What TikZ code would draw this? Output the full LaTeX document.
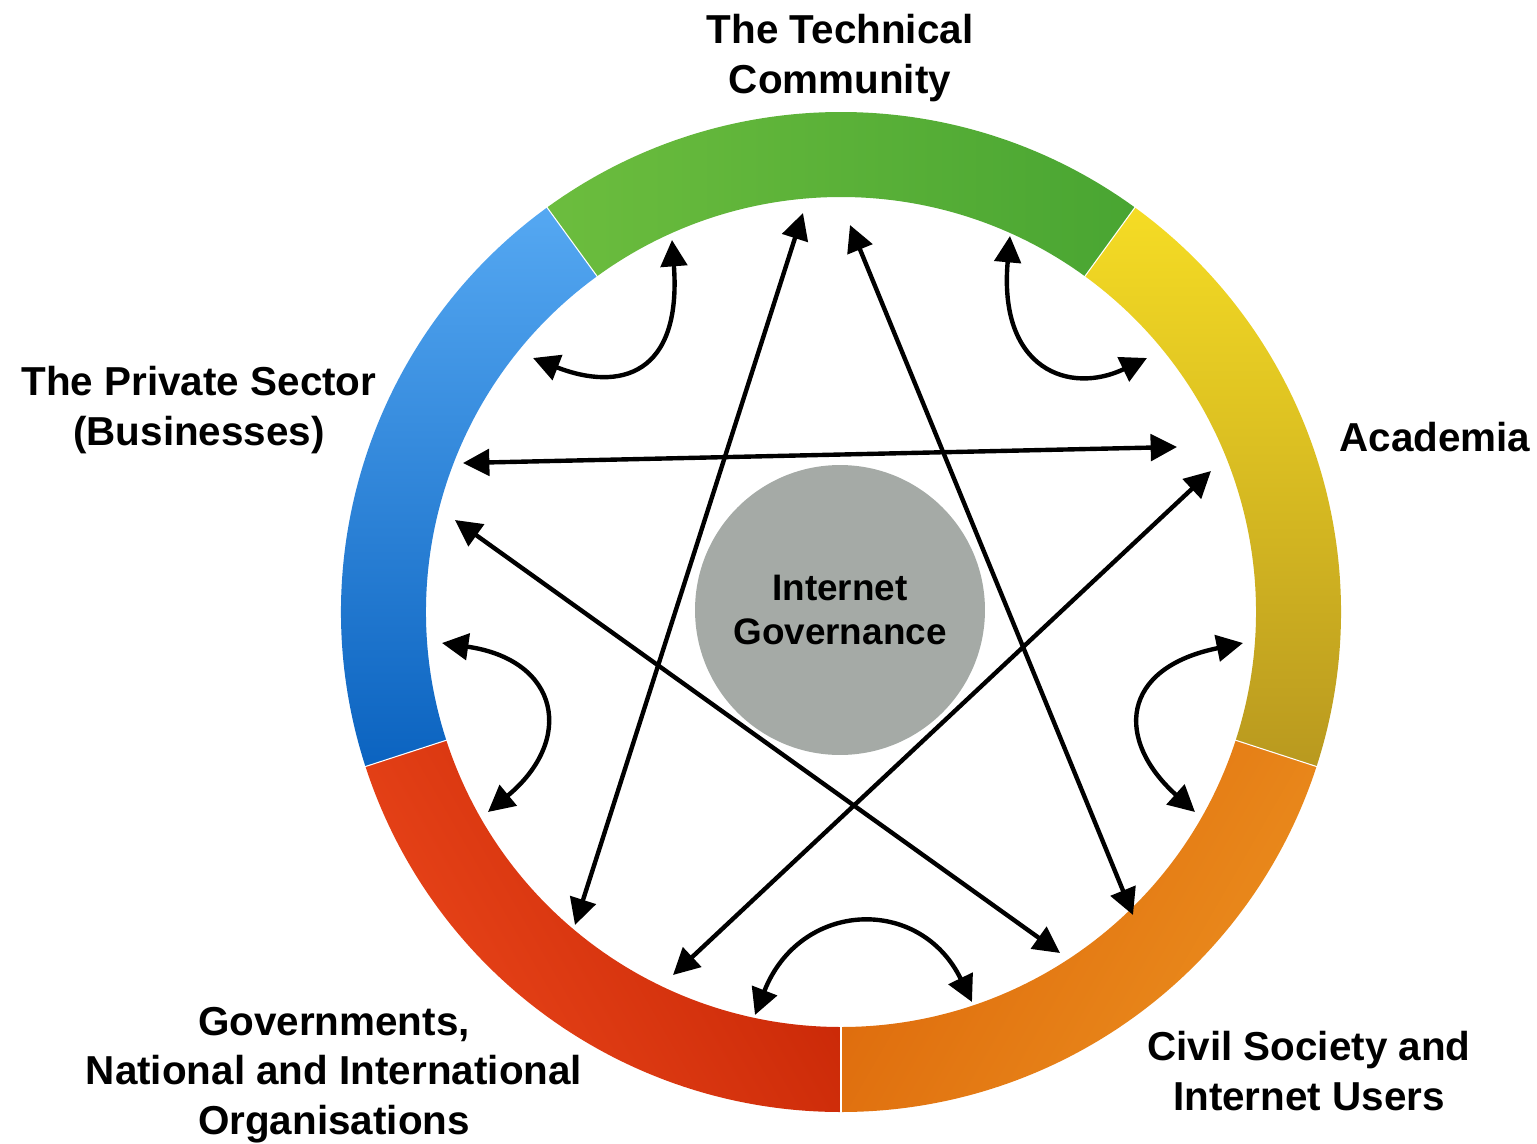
\documentclass[tikz,border=0pt]{standalone}
\usepackage{fontspec}
\setmainfont{Liberation Sans}
\usetikzlibrary{arrows.meta}
\definecolor{techA}{HTML}{6CBD3E}
\definecolor{techB}{HTML}{49A532}
\definecolor{acadA}{HTML}{F5DC24}
\definecolor{acadB}{HTML}{B9991F}
\definecolor{civA}{HTML}{DD680B}
\definecolor{civB}{HTML}{EB8E1E}
\definecolor{govA}{HTML}{EA461A}
\definecolor{govB}{HTML}{C62505}
\definecolor{privA}{HTML}{55A8F2}
\definecolor{privB}{HTML}{0B63C0}
\definecolor{igray}{HTML}{A5AAA6}
\tikzset{
  party/.style={align=center, font=\bfseries\fontsize{23}{28}\selectfont},
  link/.style={line width=2.5pt, {Triangle[length=15pt,width=15pt]}-{Triangle[length=15pt,width=15pt]}}
}

\begin{document}
\begin{tikzpicture}[x=0.02cm, y=0.02cm]
 \useasboundingbox (-841,-531) rectangle (696,612);
 % ring
 \shade[left color=techA, right color=techB] (54:500) arc[start angle=54, end angle=126, radius=500] -- (126:415) arc[start angle=126, end angle=54, radius=415] -- cycle;
 \shade[top color=acadA, bottom color=acadB] (-18:500) arc[start angle=-18, end angle=54, radius=500] -- (54:415) arc[start angle=54, end angle=-18, radius=415] -- cycle;
 \shade[left color=civA, right color=civB, shading angle=60] (-90:500) arc[start angle=-90, end angle=-18, radius=500] -- (-18:415) arc[start angle=-18, end angle=-90, radius=415] -- cycle;
 \shade[left color=govA, right color=govB, shading angle=120] (198:500) arc[start angle=198, end angle=270, radius=500] -- (270:415) arc[start angle=270, end angle=198, radius=415] -- cycle;
 \shade[top color=privA, bottom color=privB] (126:500) arc[start angle=126, end angle=198, radius=500] -- (198:415) arc[start angle=198, end angle=126, radius=415] -- cycle;
 \foreach \a in {54,126,198,270,342}
   \draw[white, line width=0.6pt] (\a:414) -- (\a:501);

 \node (ig) [circle, fill=igray, minimum size=5.8cm, align=center, font=\bfseries\fontsize{21}{25.5}\selectfont] at (-1,2) {Internet\\Governance};

 \node (tech) [party] at (-1,554) {The Technical\\Community};
 \node (acad) [party] at (594,175) {Academia};
 \node (priv) [party] at (-642,202) {The Private Sector\\(Businesses)};
 \node (govt) [party] at (-507,-463) {Governments,\\National and International\\Organisations};
 \node (civil) [party] at (468,-459) {Civil Society and\\Internet Users};

 % star ends
 \coordinate (tc1) at (-38,399);
 \coordinate (tc2) at (9,387);
 \coordinate (ac1) at (336,165);
 \coordinate (ac2) at (370,141);
 \coordinate (cs1) at (292,-303);
 \coordinate (cs2) at (219,-341);
 \coordinate (gv1) at (-266,-313);
 \coordinate (gv2) at (-168,-363);
 \coordinate (ps1) at (-378,149);
 \coordinate (ps2) at (-386,92);

 \draw[link] (gv1) -- (tc1);
 \draw[link] (tc2) -- (cs1);
 \draw[link] (ps1) -- (ac1);
 \draw[link] (ps2) -- (cs2);
 \draw[link] (gv2) -- (ac2);

 % neighbour ends
 \coordinate (pt1) at (-308,254);
 \coordinate (pt2) at (-169,372);
 \coordinate (ta1) at (169,376);
 \coordinate (ta2) at (306,254);
 \coordinate (ac3) at (402,-31);
 \coordinate (ac4) at (354,-200);
 \coordinate (gc1) at (-86,-403);
 \coordinate (gc2) at (131,-390);
 \coordinate (pg1) at (-399,-31);
 \coordinate (pg2) at (-353,-200);

 \draw[link] (pt1) .. controls (-221,220) and (-159,237) .. (pt2);
 \draw[link] (ta1) .. controls (157,242) and (229,217) .. (ta2);
 \draw[link] (ac3) .. controls (279,-56) and (274,-128) .. (ac4);
 \draw[link] (gc1) .. controls (-41,-288) and (79,-283) .. (gc2);
 \draw[link] (pg1) .. controls (-281,-48) and (-266,-128) .. (pg2);
\end{tikzpicture}
\end{document}
